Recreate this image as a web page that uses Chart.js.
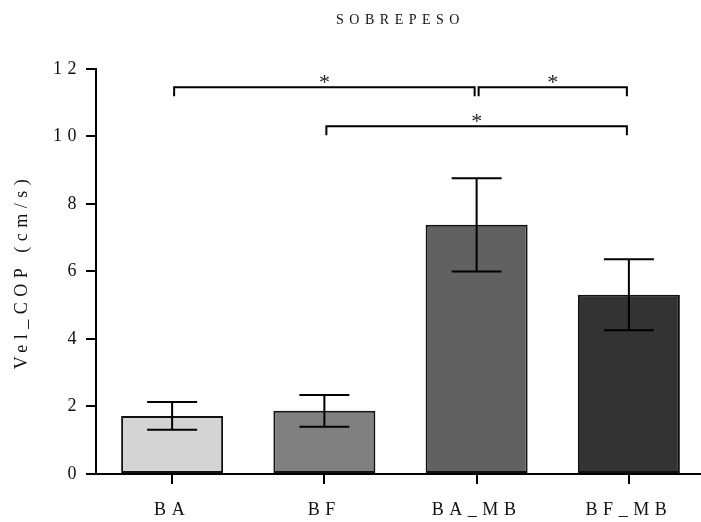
<!DOCTYPE html>
<html>
<head>
<meta charset="utf-8">
<script src="https://cdn.jsdelivr.net/npm/chart.js@4.4.1/dist/chart.umd.min.js"></script>
<style>
  html, body { margin: 0; padding: 0; background: #ffffff; overflow: hidden; }
  #wrap { width: 701px; height: 522px; overflow: hidden; }
  #c { display: block; }
</style>
</head>
<body>
<div id="wrap"><canvas id="c" width="705" height="522"></canvas></div>
<script>
// Mean COP velocity per condition, with standard deviation
const categories = ['BA', 'BF', 'BA_MB', 'BF_MB'];
const means = [1.72, 1.87, 7.38, 5.31];
const deviations = [0.41, 0.47, 1.38, 1.05];
const barColors = ['#d4d4d4', '#808080', '#616161', '#333333'];
const yTicks = [0, 2, 4, 6, 8, 10, 12];
// Significant pairwise comparisons: [first group, second group, bracket level]
const comparisons = [
  ['BA', 'BA_MB', 11.45],
  ['BA_MB', 'BF_MB', 11.45],
  ['BF', 'BF_MB', 10.3]
];

const SERIF = "'Liberation Serif', 'Times New Roman', serif";
const SPACING = '5.5px';

// Spaced lettering for every text drawn on the canvas
const spacedText = {
  id: 'spacedText',
  beforeLayout(chart) { chart.ctx.letterSpacing = SPACING; },
  beforeDraw(chart) { chart.ctx.letterSpacing = SPACING; }
};

// Error bars: mean ± SD with flat caps
const errorBars = {
  id: 'errorBars',
  afterDatasetsDraw(chart) {
    const ctx = chart.ctx;
    const y = chart.scales.y;
    const meta = chart.getDatasetMeta(0);
    ctx.save();
    ctx.strokeStyle = '#000';
    ctx.lineWidth = 2;
    meta.data.forEach((bar, i) => {
      const top = y.getPixelForValue(means[i] + deviations[i]);
      const bot = y.getPixelForValue(means[i] - deviations[i]);
      const half = 25;
      ctx.beginPath();
      ctx.moveTo(bar.x, top); ctx.lineTo(bar.x, bot);
      ctx.moveTo(bar.x - half, top); ctx.lineTo(bar.x + half, top);
      ctx.moveTo(bar.x - half, bot); ctx.lineTo(bar.x + half, bot);
      ctx.stroke();
    });
    ctx.restore();
  }
};

// Significance brackets with an asterisk above each
const sigBrackets = {
  id: 'sigBrackets',
  afterDraw(chart) {
    const ctx = chart.ctx;
    const x = chart.scales.x, y = chart.scales.y;
    ctx.save();
    ctx.strokeStyle = '#000';
    ctx.lineWidth = 2;
    ctx.fillStyle = '#222';
    ctx.font = '22px ' + SERIF;
    ctx.letterSpacing = '0px';
    ctx.textAlign = 'center';
    ctx.textBaseline = 'middle';
    comparisons.forEach(([a, b, level]) => {
      const x1 = x.getPixelForValue(categories.indexOf(a)) + 2;
      const x2 = x.getPixelForValue(categories.indexOf(b)) - 2;
      const yy = y.getPixelForValue(level);
      const drop = 9;
      ctx.beginPath();
      ctx.moveTo(x1, yy + drop);
      ctx.lineTo(x1, yy);
      ctx.lineTo(x2, yy);
      ctx.lineTo(x2, yy + drop);
      ctx.stroke();
      ctx.fillText('*', (x1 + x2) / 2, yy - 4);
    });
    ctx.restore();
  }
};

new Chart(document.getElementById('c'), {
  type: 'bar',
  data: {
    labels: categories,
    datasets: [{
      data: means,
      backgroundColor: barColors,
      borderColor: '#111',
      borderWidth: 2,
      borderSkipped: false,
      barPercentage: 0.67,
      categoryPercentage: 1
    }]
  },
  options: {
    responsive: false,
    animation: false,
    devicePixelRatio: 1,
    layout: { padding: 0 },
    plugins: {
      legend: { display: false },
      tooltip: { enabled: false },
      title: {
        display: true,
        text: 'SOBREPESO',
        fullSize: false,
        color: '#111',
        font: { family: SERIF, size: 14, weight: 'normal' },
        padding: { top: 12, bottom: 40 }
      }
    },
    scales: {
      x: {
        afterFit(s) { s.height = 48; },
        grid: {
          display: true, offset: false, drawOnChartArea: false, drawTicks: true,
          tickLength: 10, color: '#000', lineWidth: 2
        },
        border: { display: true, color: '#000', width: 2 },
        ticks: { color: '#111', padding: 15, font: { family: SERIF, size: 18 } }
      },
      y: {
        min: 0, max: 12,
        afterFit(s) { s.width = 96; },
        afterBuildTicks(s) { s.ticks = yTicks.map(v => ({ value: v })); },
        grid: {
          display: true, drawOnChartArea: false, drawTicks: true,
          tickLength: 10, color: '#000', lineWidth: 2
        },
        border: { display: true, color: '#000', width: 2 },
        ticks: { color: '#111', padding: 4, font: { family: SERIF, size: 18 } },
        title: {
          display: true,
          text: 'Vel_COP (cm/s)',
          color: '#111',
          font: { family: SERIF, size: 18 },
          padding: { top: 11, bottom: 0 }
        }
      }
    }
  },
  plugins: [spacedText, errorBars, sigBrackets]
});
</script>
</body>
</html>
